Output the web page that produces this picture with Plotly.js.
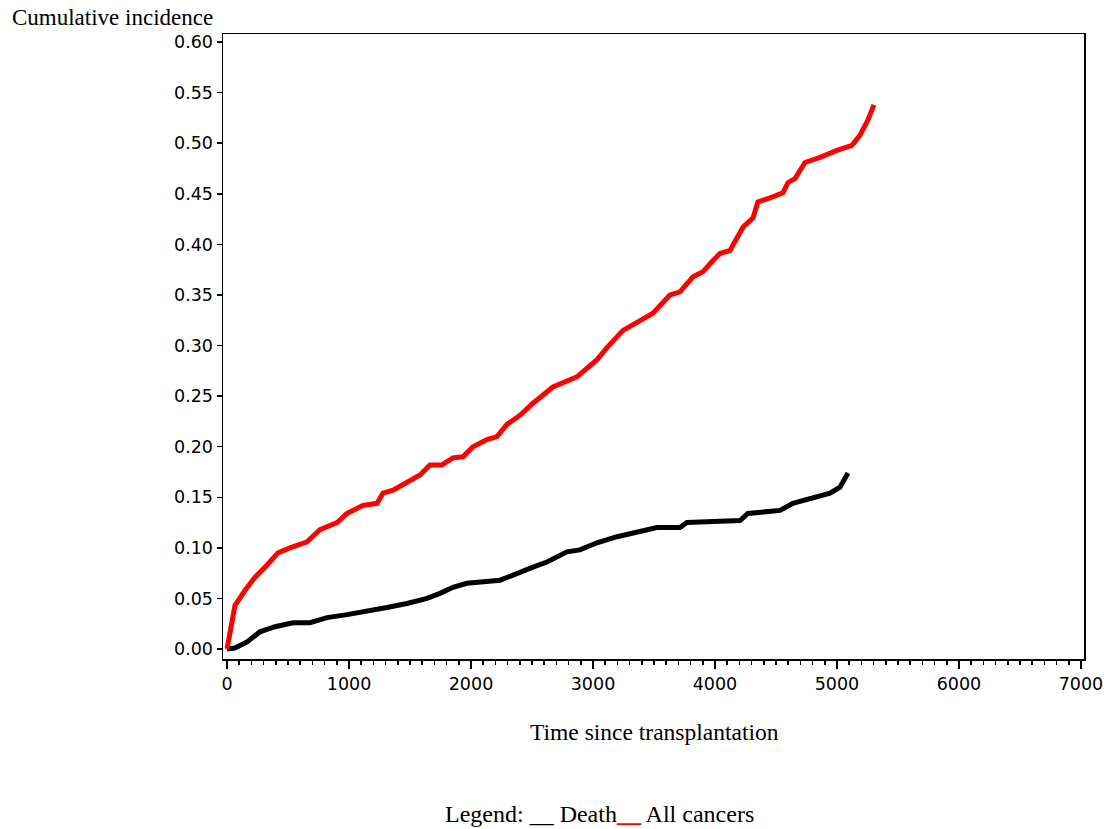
<!DOCTYPE html>
<html>
<head>
<meta charset="utf-8">
<script src="https://cdn.plot.ly/plotly-3.0.1.min.js"></script>
<style>html,body{margin:0;padding:0;background:#fff;}#chart{width:1107px;height:829px;}</style>
</head>
<body>
<div id="chart"></div>
<script>
// All cancers (red) — time since transplantation (days) and cumulative incidence
const cancerTime = [0, 25, 50, 65, 148, 230, 328, 418, 516, 656, 762, 902, 984, 1115, 1230, 1279, 1361, 1475, 1582, 1664, 1762, 1852, 1934, 2016, 2131, 2213, 2295, 2402, 2508, 2672, 2869, 3033, 3115, 3246, 3410, 3492, 3631, 3713, 3820, 3902, 3984, 4041, 4123, 4230, 4311, 4352, 4451, 4557, 4598, 4656, 4738, 4861, 5000, 5123, 5189, 5254, 5303];
const cancerCI   = [0, 0.019, 0.034, 0.043, 0.058, 0.071, 0.083, 0.095, 0.100, 0.106, 0.118, 0.125, 0.134, 0.142, 0.144, 0.154, 0.157, 0.165, 0.172, 0.182, 0.182, 0.189, 0.190, 0.200, 0.207, 0.210, 0.222, 0.231, 0.243, 0.259, 0.269, 0.286, 0.298, 0.315, 0.327, 0.332, 0.350, 0.353, 0.368, 0.373, 0.384, 0.391, 0.394, 0.417, 0.426, 0.442, 0.446, 0.451, 0.461, 0.465, 0.481, 0.486, 0.493, 0.498, 0.508, 0.523, 0.538];

// Death (black)
const deathTime = [0, 65, 164, 270, 393, 541, 680, 820, 984, 1148, 1311, 1475, 1639, 1746, 1852, 1967, 2098, 2238, 2344, 2402, 2508, 2623, 2787, 2893, 3033, 3197, 3385, 3525, 3713, 3770, 3984, 4205, 4270, 4533, 4639, 4803, 4943, 5025, 5090];
const deathCI   = [0, 0.001, 0.007, 0.017, 0.022, 0.026, 0.026, 0.031, 0.034, 0.037, 0.041, 0.045, 0.050, 0.055, 0.061, 0.065, 0.066, 0.068, 0.073, 0.076, 0.081, 0.086, 0.096, 0.098, 0.105, 0.111, 0.116, 0.120, 0.120, 0.125, 0.126, 0.127, 0.134, 0.137, 0.144, 0.149, 0.154, 0.160, 0.174];

const yTickVals = [0, 0.05, 0.10, 0.15, 0.20, 0.25, 0.30, 0.35, 0.40, 0.45, 0.50, 0.55, 0.60];
const xTickVals = [0, 1000, 2000, 3000, 4000, 5000, 6000, 7000];

const traces = [
  {x: deathTime, y: deathCI, name: 'Death', type: 'scatter', mode: 'lines',
   line: {color: '#000000', width: 5}},
  {x: cancerTime, y: cancerCI, name: 'All cancers', type: 'scatter', mode: 'lines',
   line: {color: '#ff0000', width: 5}}
];

const tickFont = {family: 'DejaVu Sans', size: 17.5, color: '#000'};
const serif = 'Liberation Serif';

const layout = {
  width: 1107, height: 829,
  margin: {l: 223, r: 23, t: 34, b: 170},
  paper_bgcolor: '#fff', plot_bgcolor: '#fff',
  showlegend: false,
  xaxis: {
    range: [-33, 7025], tickvals: xTickVals, ticktext: xTickVals.map(String),
    ticks: 'outside', ticklen: 8, tickwidth: 1.5, tickcolor: '#000',
    minor: {dtick: 100, tick0: 0, ticks: 'outside', ticklen: 4, tickwidth: 1.5, tickcolor: '#000', showgrid: false},
    showline: true, linecolor: '#000', linewidth: 1.5, mirror: true,
    showgrid: false, zeroline: false, tickfont: tickFont
  },
  yaxis: {
    range: [-0.0099, 0.608], tickvals: yTickVals, ticktext: yTickVals.map(v => v.toFixed(2)),
    ticks: 'outside', ticklen: 5, tickwidth: 1.5, tickcolor: '#000',
    showline: true, linecolor: '#000', linewidth: 1.5, mirror: true,
    showgrid: false, zeroline: false, tickfont: tickFont
  },
  annotations: [
    {text: 'Cumulative incidence', xref: 'paper', yref: 'paper', x: -0.2474, y: 1.0256,
     xanchor: 'left', yanchor: 'middle', showarrow: false, font: {family: serif, size: 23, color: '#000'}},
    {text: 'Time since transplantation', xref: 'paper', yref: 'paper', x: 0.5006, y: -0.1168,
     xanchor: 'center', yanchor: 'middle', showarrow: false, font: {family: serif, size: 23.5, color: '#000'}},
    {text: 'Legend: __ Death<span style="color:#ff0000"><b>__</b></span> All cancers', xref: 'paper', yref: 'paper',
     x: (599 - 223) / 861, y: (659 - 814) / 625,
     xanchor: 'center', yanchor: 'middle', showarrow: false, font: {family: serif, size: 24, color: '#000'}}
  ]
};

Plotly.newPlot('chart', traces, layout, {displayModeBar: false, staticPlot: true});
</script>
</body>
</html>
